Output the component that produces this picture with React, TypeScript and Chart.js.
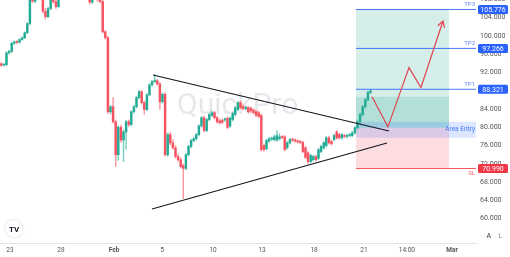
import React, { useEffect, useRef } from "react";
import { Chart, registerables } from "chart.js";

Chart.register(...registerables);

// ---- candle data (index-based, ~4h candles) ----
const opens = [
  93.9, 93.6, 93.7, 96.3, 96.6, 98.4, 98.7, 98.6, 99.2, 99.6, 100.7,
  102.7, 108.5, 107.6, 108.2, 109.0, 109.8, 105.4, 104.2, 106.0, 108.0,
  107.5, 106.4, 108.8, 109.5, 110.5, 111.0, 112.0, 111.5, 112.5, 111.0,
  110.0, 109.5, 110.0, 109.2, 107.4, 108.3, 109.0, 107.9, 107.5, 100.9,
  99.6, 83.4, 84.5, 81.2, 74.0, 80.0, 77.2, 79.0, 81.2, 80.6,
  83.4, 84.5, 86.5, 87.8, 85.4, 83.9, 87.1, 89.3, 90.0, 90.2,
  89.5, 85.6, 87.2, 74.0, 78.4, 76.6, 75.5, 73.6, 72.9, 71.6,
  71.0, 74.0, 75.8, 77.1, 77.5, 78.4, 80.3, 82.1, 79.3, 81.7,
  82.6, 83.2, 82.1, 81.4, 81.5, 81.6, 82.0, 80.3, 81.7, 82.8,
  83.9, 85.4, 84.5, 84.1, 84.3, 84.2, 83.8, 83.4, 83.2, 82.6,
  76.0, 75.3, 77.0, 77.4, 77.3, 77.2, 77.5, 77.9, 77.9, 75.5,
  76.6, 77.3, 77.2, 77.0, 76.8, 76.7, 75.5, 74.4, 72.5, 72.9,
  73.6, 73.2, 74.7, 75.5, 76.0, 77.7, 76.9, 77.3, 79.0, 78.4,
  77.7, 78.2, 78.0, 78.2, 78.2, 78.8, 79.9, 81.2, 82.8, 84.5, 86.0, 87.6,
];
const highs = [
  94.2, 94.0, 96.5, 96.9, 98.6, 98.9, 98.9, 99.4, 99.8, 100.9, 102.9,
  109.0, 108.8, 108.6, 109.4, 110.2, 110.1, 106.0, 106.3, 108.4, 108.3,
  107.8, 109.2, 110.0, 110.8, 111.4, 112.4, 112.3, 112.9, 112.7, 111.3,
  110.2, 110.4, 110.3, 109.5, 108.6, 109.3, 109.2, 108.2, 107.8, 101.2,
  99.9, 84.8, 86.5, 81.6, 80.4, 80.5, 79.4, 81.5, 81.6, 83.7,
  84.8, 86.8, 88.1, 88.0, 85.7, 87.4, 89.6, 90.3, 91.5, 90.5,
  89.8, 87.5, 87.6, 78.7, 78.9, 77.3, 76.0, 74.2, 73.3, 72.0,
  74.3, 76.1, 77.4, 77.8, 78.7, 80.6, 82.4, 82.5, 82.0, 83.1,
  83.6, 83.5, 82.4, 81.8, 81.9, 82.1, 82.3, 82.3, 83.3, 84.6,
  85.7, 85.7, 84.9, 84.6, 84.6, 84.5, 84.1, 83.7, 83.5, 82.9,
  76.4, 77.4, 77.8, 77.9, 78.3, 79.3, 78.6, 78.2, 78.2, 76.9,
  77.6, 77.6, 77.5, 77.3, 77.1, 77.0, 75.8, 74.7, 74.1, 73.9,
  73.9, 75.4, 76.1, 76.9, 78.0, 78.0, 77.2, 78.5, 79.3, 78.7,
  78.7, 78.5, 78.5, 78.7, 79.1, 80.2, 81.5, 83.1, 84.8, 86.3, 87.9, 88.2,
];
const lows = [
  93.3, 93.4, 93.5, 96.0, 96.4, 98.1, 98.3, 98.4, 99.0, 99.4, 100.5,
  102.4, 107.3, 107.2, 107.9, 108.6, 105.0, 103.7, 104.0, 105.7, 107.2,
  106.0, 106.2, 108.3, 109.2, 110.1, 110.8, 111.2, 111.3, 110.7, 109.8,
  109.2, 109.3, 108.9, 106.9, 107.1, 108.0, 107.6, 107.2, 100.6, 99.3,
  83.0, 82.9, 80.9, 71.4, 72.8, 76.7, 72.5, 75.2, 80.2, 80.3,
  83.1, 84.2, 86.2, 85.1, 82.8, 83.6, 86.9, 89.0, 89.8, 89.2,
  83.9, 85.3, 73.7, 73.6, 76.2, 75.2, 73.2, 72.5, 71.1, 64.4,
  70.7, 73.7, 75.5, 76.8, 77.2, 78.1, 80.0, 79.0, 79.0, 81.4,
  82.3, 81.8, 80.9, 80.7, 80.8, 81.3, 79.7, 80.0, 81.4, 82.5,
  83.6, 84.0, 83.8, 83.8, 83.1, 83.3, 82.9, 82.3, 82.1, 74.8,
  74.8, 75.0, 76.7, 77.1, 77.0, 76.9, 77.2, 77.5, 74.8, 75.2,
  76.3, 76.9, 76.7, 76.5, 76.4, 74.4, 73.1, 72.0, 72.2, 72.6,
  72.6, 72.9, 74.4, 75.2, 75.7, 76.3, 76.1, 77.0, 77.4, 77.4,
  77.4, 77.7, 77.7, 77.9, 77.9, 78.5, 79.6, 80.9, 82.5, 84.2, 85.7, 87.3,
];
const closes = [
  93.6, 93.8, 96.3, 96.6, 98.4, 98.7, 98.6, 99.2, 99.6, 100.7, 102.7,
  108.5, 107.6, 108.2, 109.0, 109.8, 105.4, 104.2, 106.0, 108.0, 107.5,
  106.4, 108.8, 109.5, 110.5, 111.0, 112.0, 111.5, 112.5, 111.0, 110.0,
  109.5, 110.0, 109.2, 107.4, 108.3, 109.0, 107.9, 107.5, 100.9, 99.6,
  83.4, 84.5, 81.2, 74.0, 80.0, 77.2, 79.0, 81.2, 80.6, 83.4,
  84.5, 86.5, 87.8, 85.4, 83.9, 87.1, 89.3, 90.0, 90.2, 89.5,
  85.6, 87.2, 74.0, 78.4, 76.6, 75.5, 73.6, 72.9, 71.4, 71.0,
  74.0, 75.8, 77.1, 77.5, 78.4, 80.3, 82.1, 79.3, 81.7, 82.8,
  83.2, 82.1, 81.2, 81.0, 81.1, 81.7, 80.0, 82.0, 83.0, 84.3,
  85.4, 84.3, 84.1, 84.3, 83.4, 83.6, 83.2, 82.6, 82.4, 75.1,
  75.1, 77.1, 77.5, 77.6, 77.9, 78.2, 77.9, 77.8, 75.1, 76.6,
  77.3, 77.2, 77.0, 76.8, 76.7, 74.7, 73.4, 72.5, 73.8, 73.6,
  72.9, 75.1, 75.8, 76.6, 77.7, 76.6, 76.4, 78.2, 77.7, 77.7,
  78.4, 78.0, 78.2, 78.4, 78.8, 79.9, 81.2, 82.8, 84.5, 86.0, 87.6, 88.0,
];

// ---- axes ----
const yTicks = [60, 64, 68, 72, 76, 80, 84, 88, 92, 96, 100, 104, 108];
const xTickPos = [3.35, 22.96, 43.35, 61.8, 81.4, 100.3, 120.3, 139.5, 156.0, 173.35];
const xTickLabels = ["23", "28", "Feb", "5", "10", "13", "18", "21", "14:00", "Mar"];
const xBold = ["Feb", "Mar"];
const X_MIN = -0.5;
const X_MAX = 182.58;
const Y_MIN = 54.68;
const Y_MAX = 107.86;

// ---- drawings ----
const upperTrend = [{ x: 58.35, y: 91.44 }, { x: 149.12, y: 79.19 }];
const lowerTrend = [{ x: 57.96, y: 62.12 }, { x: 148.35, y: 76.56 }];
const arrowPath = [
  { x: 142.6, y: 86.7 }, { x: 148.7, y: 80.1 }, { x: 156.8, y: 93.05 },
  { x: 161.4, y: 88.7 }, { x: 169.88, y: 103.26 },
];
const arrowHead = [{ x: 167.88, y: 102.23 }, { x: 169.88, y: 103.26 }, { x: 170.46, y: 101.75 }];

const zoneStart = 136.42;
const zoneEnd = 172.19;
const tpValues = [105.776, 97.266, 88.321];
const tpNames = ["TP3", "TP2", "TP1"];
const slValue = 70.99;
const entrySplit = 79.9;
const innerTop = 86.7;
const bandTop = 81.2;
const bandBottom = 77.7;

const UP = "#22ab94";
const DOWN = "#f7525f";
const BLUE = "#2962ff";
const FONT = 'Roboto, "Noto Sans", "DejaVu Sans", sans-serif';

const idx = opens.map((_, i) => i);
const isUp = (i: number) => closes[i] >= opens[i];

const hline = (v: number, x0: number, x1: number) => [{ x: x0, y: v }, { x: x1, y: v }];

const overlayPlugin = {
  id: "overlay",
  beforeDatasetsDraw(chart: any) {
    const { ctx, chartArea } = chart;
    ctx.save();
    ctx.font = `30px ${FONT}`;
    ctx.fillStyle = "rgba(140,140,150,0.2)";
    ctx.textBaseline = "alphabetic";
    ctx.textAlign = "left";
    ctx.fillText("QuickPro", chartArea.left + 177, chartArea.top + 114);
    ctx.restore();
  },
  afterDraw(chart: any) {
    const { ctx, chartArea } = chart;
    const y = chart.scales.y;
    ctx.save();
    const box = (v: number, color: string) => {
      const py = y.getPixelForValue(v);
      ctx.fillStyle = color;
      ctx.beginPath();
      (ctx as any).roundRect(chartArea.right + 2, py - 4.5, 30, 9, 1.5);
      ctx.fill();
      ctx.fillStyle = "#fff";
      ctx.font = `7px ${FONT}`;
      ctx.textAlign = "center";
      ctx.textBaseline = "middle";
      ctx.fillText(v.toFixed(3), chartArea.right + 17, py + 0.5);
    };
    tpValues.forEach((v, i) => {
      const py = y.getPixelForValue(v);
      ctx.fillStyle = "rgba(41,98,255,0.75)";
      ctx.font = `6px ${FONT}`;
      ctx.textAlign = "right";
      ctx.textBaseline = "bottom";
      ctx.fillText(tpNames[i], chartArea.right - 1, py - 2);
      box(v, BLUE);
    });
    // SL
    {
      const py = y.getPixelForValue(slValue);
      ctx.fillStyle = "rgba(242,54,69,0.8)";
      ctx.font = `6px ${FONT}`;
      ctx.textAlign = "right";
      ctx.textBaseline = "top";
      ctx.fillText("SL", chartArea.right - 1, py + 2);
      box(slValue, "#f23645");
    }
    // Area Entry
    {
      const py = y.getPixelForValue((bandTop + bandBottom) / 2);
      ctx.fillStyle = "rgba(41,98,255,0.85)";
      ctx.font = `6.5px ${FONT}`;
      ctx.textAlign = "right";
      ctx.textBaseline = "middle";
      ctx.fillText("Area Entry", chartArea.right - 1, py);
    }
    // TV logo
    {
      const cx = chartArea.left + 14;
      const cy = chartArea.bottom - 14;
      ctx.shadowColor = "rgba(0,0,0,0.18)";
      ctx.shadowBlur = 3;
      ctx.beginPath();
      ctx.arc(cx, cy, 8.5, 0, Math.PI * 2);
      ctx.fillStyle = "#fff";
      ctx.fill();
      ctx.shadowColor = "transparent";
      ctx.shadowBlur = 0;
      ctx.fillStyle = "#131722";
      ctx.font = `bold 8px ${FONT}`;
      ctx.textAlign = "center";
      ctx.textBaseline = "middle";
      ctx.fillText("TV", cx, cy + 0.5);
    }
    // A / L buttons
    ctx.font = `7px ${FONT}`;
    ctx.textAlign = "center";
    ctx.textBaseline = "middle";
    ctx.fillStyle = "#333";
    ctx.fillText("A", chartArea.right + 12.7, chartArea.bottom - 6.5);
    ctx.fillStyle = "#888";
    ctx.fillText("L", chartArea.right + 24.5, chartArea.bottom - 6.5);
    ctx.restore();
  },
};

export default function App() {
  const ref = useRef<HTMLCanvasElement>(null);
  useEffect(() => {
    const canvas = ref.current;
    if (!canvas) return;
    Chart.defaults.font.family = FONT;
    const lineBase = { type: "line" as const, pointRadius: 0, pointHoverRadius: 0, tension: 0 };
    const chart = new Chart(canvas, {
      type: "line",
      data: {
        datasets: [
          // zones
          { ...lineBase, data: hline(tpValues[0], zoneStart, zoneEnd), borderWidth: 0, fill: { value: entrySplit }, backgroundColor: "rgba(8,153,129,0.17)", order: 20 } as any,
          { ...lineBase, data: hline(innerTop, zoneStart, zoneEnd), borderWidth: 0, fill: { value: entrySplit }, backgroundColor: "rgba(8,153,129,0.17)", order: 19 } as any,
          { ...lineBase, data: hline(entrySplit, zoneStart, zoneEnd), borderWidth: 0, fill: { value: slValue }, backgroundColor: "rgba(242,54,69,0.17)", order: 18 } as any,
          { ...lineBase, data: hline(bandTop, zoneStart, X_MAX), borderWidth: 0, fill: { value: bandBottom }, backgroundColor: "rgba(41,98,255,0.16)", order: 17 } as any,
          // TP / SL lines
          ...tpValues.map((v) => ({ ...lineBase, data: hline(v, zoneStart, X_MAX), borderColor: "rgba(41,98,255,0.85)", borderWidth: 1, fill: false, order: 8 } as any)),
          { ...lineBase, data: hline(slValue, zoneStart, X_MAX), borderColor: "rgba(242,54,69,0.85)", borderWidth: 1, fill: false, order: 8 } as any,
          // candles
          {
            type: "bar",
            data: idx.map((i) => ({ x: i, y: [lows[i], highs[i]] })),
            backgroundColor: idx.map((i) => (isUp(i) ? "rgba(34,171,148,0.6)" : "rgba(247,82,95,0.6)")),
            barThickness: 0.8,
            grouped: false,
            order: 6,
          } as any,
          {
            type: "bar",
            data: idx.map((i) => ({ x: i, y: [opens[i], closes[i]] })),
            backgroundColor: idx.map((i) => (isUp(i) ? UP : DOWN)),
            barThickness: 1.8,
            minBarLength: 1,
            grouped: false,
            order: 5,
          } as any,
          // trend lines
          { ...lineBase, data: upperTrend, borderColor: "#131722", borderWidth: 1.2, fill: false, order: 2 } as any,
          { ...lineBase, data: lowerTrend, borderColor: "#131722", borderWidth: 1.2, fill: false, order: 2 } as any,
          // projection arrow
          { ...lineBase, data: arrowPath, borderColor: "#e0434f", borderWidth: 1.2, fill: false, order: 1 } as any,
          { ...lineBase, data: arrowHead, borderColor: "#e0434f", borderWidth: 1.2, fill: false, order: 1 } as any,
        ],
      },
      options: {
        responsive: false,
        animation: false,
        events: [],
        layout: { padding: 0 },
        plugins: { legend: { display: false }, tooltip: { enabled: false } },
        scales: {
          x: {
            type: "linear",
            min: X_MIN,
            max: X_MAX,
            offset: false,
            grid: { display: false, drawTicks: false },
            border: { display: true, color: "#e3e5ea" },
            ticks: {
              autoSkip: false,
              maxRotation: 0,
              padding: 3,
              color: "#555",
              font: (c: any) => ({ size: 6.5, weight: xBold.includes(xTickLabels[c.index]) ? "bold" : "normal" }),
              callback: (_v: any, i: number) => xTickLabels[i],
            },
            afterBuildTicks: (s: any) => {
              s.ticks = xTickPos.map((v) => ({ value: v }));
            },
            afterFit: (s: any) => {
              s.height = 14;
              s.paddingLeft = 0;
              s.paddingRight = 0;
            },
          },
          y: {
            type: "linear",
            position: "right",
            min: Y_MIN,
            max: Y_MAX,
            grid: { display: false, drawTicks: false },
            border: { display: false },
            ticks: {
              padding: 4,
              color: "#555",
              font: { size: 7 },
              callback: (v: any) => Number(v).toFixed(3),
            },
            afterBuildTicks: (s: any) => {
              s.ticks = yTicks.map((v) => ({ value: v }));
            },
            afterFit: (s: any) => {
              s.width = 34;
              s.paddingTop = 0;
              s.paddingBottom = 0;
            },
          },
        },
      } as any,
      plugins: [overlayPlugin],
    });
    return () => chart.destroy();
  }, []);
  return (
    <div style={{ position: "fixed", left: 0, top: 0, width: 510, height: 257, background: "#fff" }}>
      <canvas ref={ref} width={510} height={257} style={{ display: "block", width: 510, height: 257 }} />
    </div>
  );
}
